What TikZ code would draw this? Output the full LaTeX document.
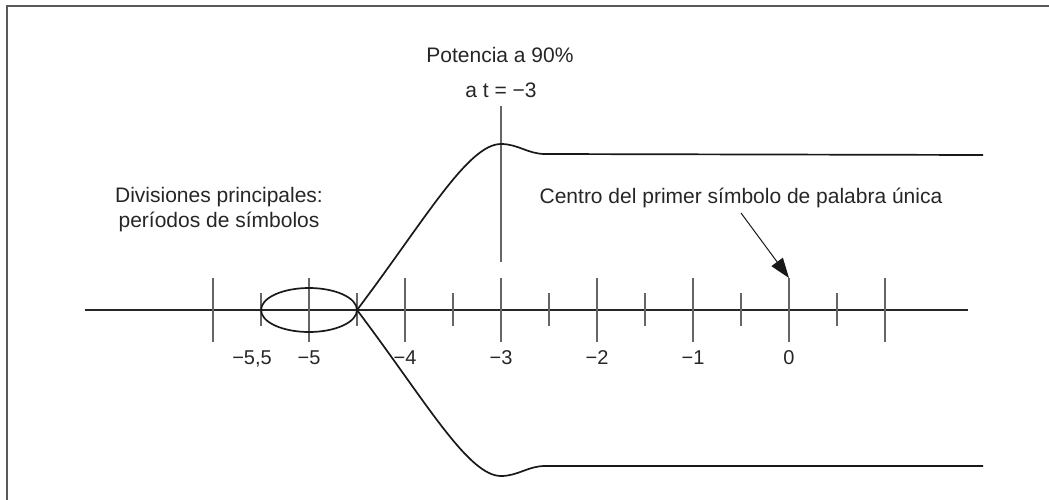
\documentclass[tikz,border=0pt]{standalone}
\usepackage{fontspec}
\setmainfont{Liberation Sans}
\usetikzlibrary{arrows.meta}
\begin{document}
\begin{tikzpicture}[x=1pt,y=-1pt,
  lbl/.style={font=\fontsize{21}{25}\selectfont, text=black!85, inner sep=0pt, anchor=base},
  ticklbl/.style={font=\fontsize{20}{24}\selectfont, text=black!85, inner sep=0pt, anchor=base},
  tickline/.style={draw=black!60, line width=1.6pt},
  curve/.style={draw=black!90, line width=1.7pt},
  frame/.style={draw=black!65, line width=2pt},
  axisline/.style={draw=black!85, line width=1.4pt},
  pointer/.style={draw=black!90, line width=1pt, -{Triangle[length=20pt,width=14pt]}}]
\useasboundingbox (0,0) rectangle (1049,500);
% frame (top and left edges only)
\draw[frame] (6.5,500) -- (6.5,6.5) -- (1049,6.5);
% axis
\coordinate (axL) at (85,310);
\coordinate (axR) at (968,310);
\draw[axisline] (axL) -- (axR);
% major ticks
\foreach \x/\n in {213/a,309/b,405/c,501/d,597/e,693/f,789/g,885/h} {
  \coordinate (Mtop\n) at (\x,278);
  \coordinate (Mbot\n) at (\x,342);
  \draw[tickline] (Mtop\n) -- (Mbot\n);
}
% minor ticks
\foreach \x/\n in {261/a,357/b,453/c,549/d,645/e,741/f,837/g} {
  \coordinate (mtop\n) at (\x,293);
  \coordinate (mbot\n) at (\x,326);
  \draw[tickline] (mtop\n) -- (mbot\n);
}
% vertical marker at -3
\coordinate (vtop) at (501,106);
\coordinate (vbot) at (501,262);
\draw[tickline] (vtop) -- (vbot);
% ellipse
\coordinate (ell) at (309,310);
\draw[curve] (ell) ellipse [x radius=48, y radius=22];
% envelope curves
\coordinate (start) at (357,310);
\coordinate (peak) at (501,144);
\coordinate (upflat) at (545,154);
\coordinate (upend) at (983,155);
\coordinate (low) at (501,476);
\coordinate (lowflat) at (545,466);
\coordinate (lowend) at (983,466);
\draw[curve] (start) .. controls (425,220) and (468,144) .. (peak)
  .. controls (518,144) and (528,154) .. (upflat) -- (upend);
\draw[curve] (start) .. controls (425,400) and (468,476) .. (low)
  .. controls (518,476) and (528,466) .. (lowflat) -- (lowend);
% tick labels
\node[ticklbl] (l55) at (252,364) {−5,5};
\node[ticklbl] (l5) at (309,364) {−5};
\node[ticklbl] (l4) at (405,364) {−4};
\node[ticklbl] (l3) at (501,364) {−3};
\node[ticklbl] (l2) at (597,364) {−2};
\node[ticklbl] (l1) at (693,364) {−1};
\node[ticklbl] (l0) at (789,364) {0};
% texts
\node[lbl] (pot) at (500,63) {Potencia a 90\%};
\node[lbl] (at) at (501,98) {a t = −3};
\node[lbl] (div1) at (219,202) {Divisiones principales:};
\node[lbl] (div2) at (219,227) {períodos de símbolos};
\node[lbl] (centro) at (741,203) {Centro del primer símbolo de palabra única};
% pointer
\coordinate (arrstart) at (741,213);
\draw[pointer] (arrstart) -- (Mtopg);
\end{tikzpicture}
\end{document}
